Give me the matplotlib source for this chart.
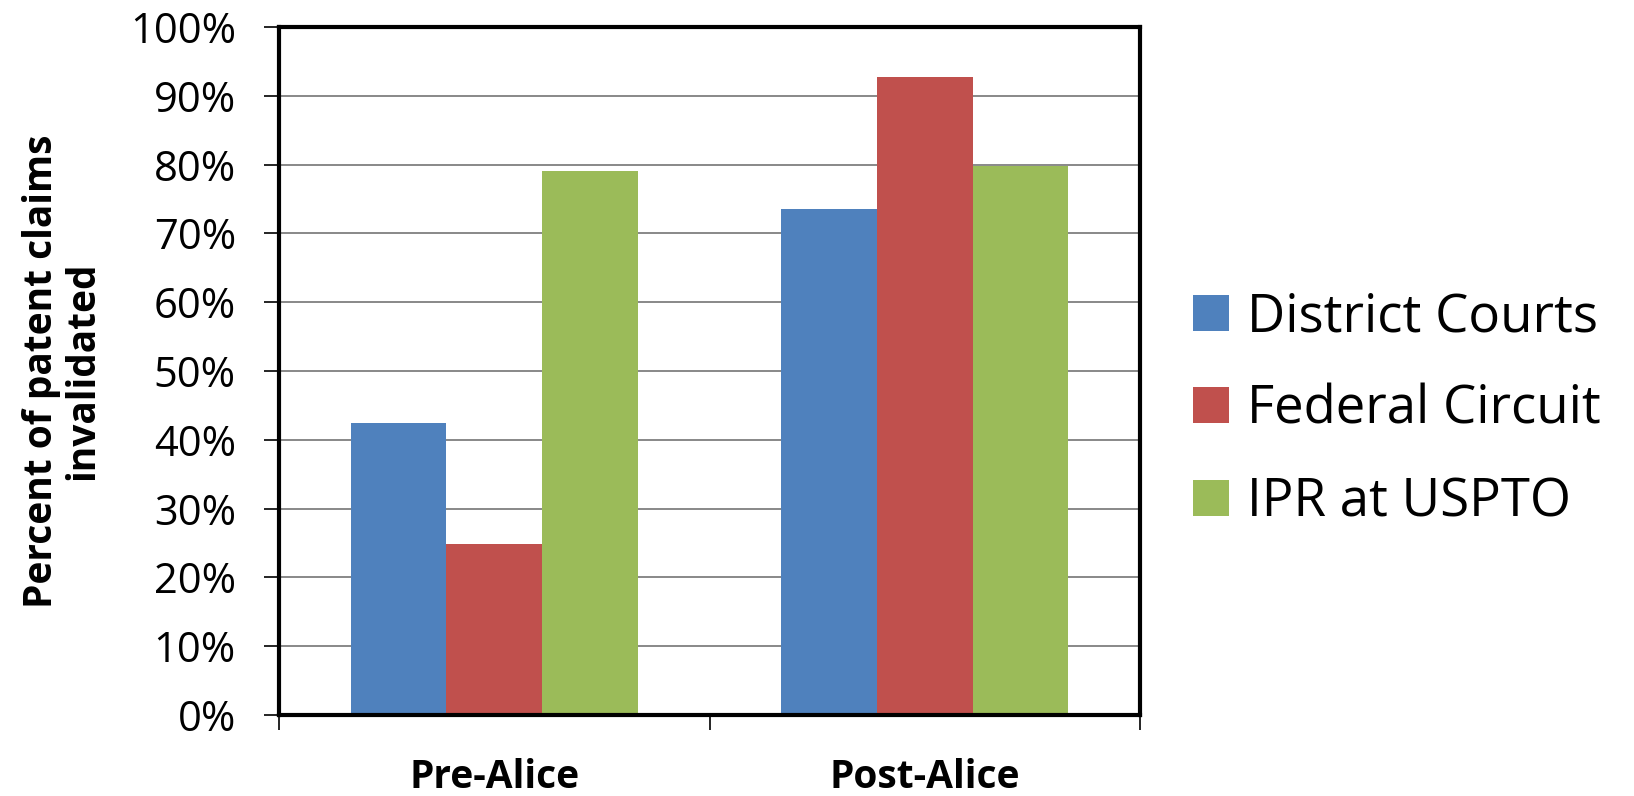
import numpy as np
from matplotlib import pyplot as plt
from matplotlib.ticker import FixedLocator, PercentFormatter

periods = ['Pre-Alice', 'Post-Alice']
series = ['District Courts', 'Federal Circuit', 'IPR at USPTO']
district = [42.4, 73.5]
federal = [24.8, 92.7]
ipr = [79.0, 79.8]
colors = ['#4F81BD', '#C0504D', '#9BBB59']

plt.rcParams['font.family'] = ['Open Sans', 'DejaVu Sans']

fig = plt.figure(figsize=(16.34, 7.96), dpi=100)
ax = fig.add_axes([279/1634, 1 - 715/796, (1140 - 279)/1634, (715 - 27)/796])

x = np.arange(len(periods))
w = 2/9
for k, (vals, lab) in enumerate(zip([district, federal, ipr], series)):
    ax.bar(x + (k - 1)*w, vals, width=w, color=colors[k], label=lab, zorder=3)

ax.set_xlim(-0.5, 1.5)
ax.set_ylim(0, 100)
ax.set_yticks(np.arange(0, 101, 10))
ax.yaxis.set_major_formatter(PercentFormatter(decimals=0))
ax.grid(axis='y', color='#888888', linewidth=1.4, zorder=0)
ax.set_axisbelow(True)

ax.set_xticks(x)
ax.set_xticklabels(periods, fontsize=28, fontweight='bold')
ax.xaxis.set_minor_locator(FixedLocator([-0.5, 0.5, 1.5]))
ax.tick_params(axis='x', which='major', length=0, pad=31)
ax.tick_params(axis='x', which='minor', length=11, width=1.2, direction='out')
ax.tick_params(axis='y', length=11, width=1.2, direction='out', labelsize=30, pad=20)

for s in ax.spines.values():
    s.set_linewidth(3)
    s.set_zorder(5)

fig.text(62/1634, 1 - 371/796, 'Percent of patent claims\ninvalidated',
         rotation=90, ha='center', va='center', fontsize=28, fontweight='bold',
         multialignment='center', linespacing=1.05)

fig.legend(loc='center left', bbox_to_anchor=(1193/1634, 1 - 410/796),
           frameon=False, fontsize=38, borderaxespad=0, borderpad=0,
           handlelength=0.68, handleheight=0.68, handletextpad=0.35,
           labelspacing=0.74)

fig.savefig('out.png', dpi=100)
